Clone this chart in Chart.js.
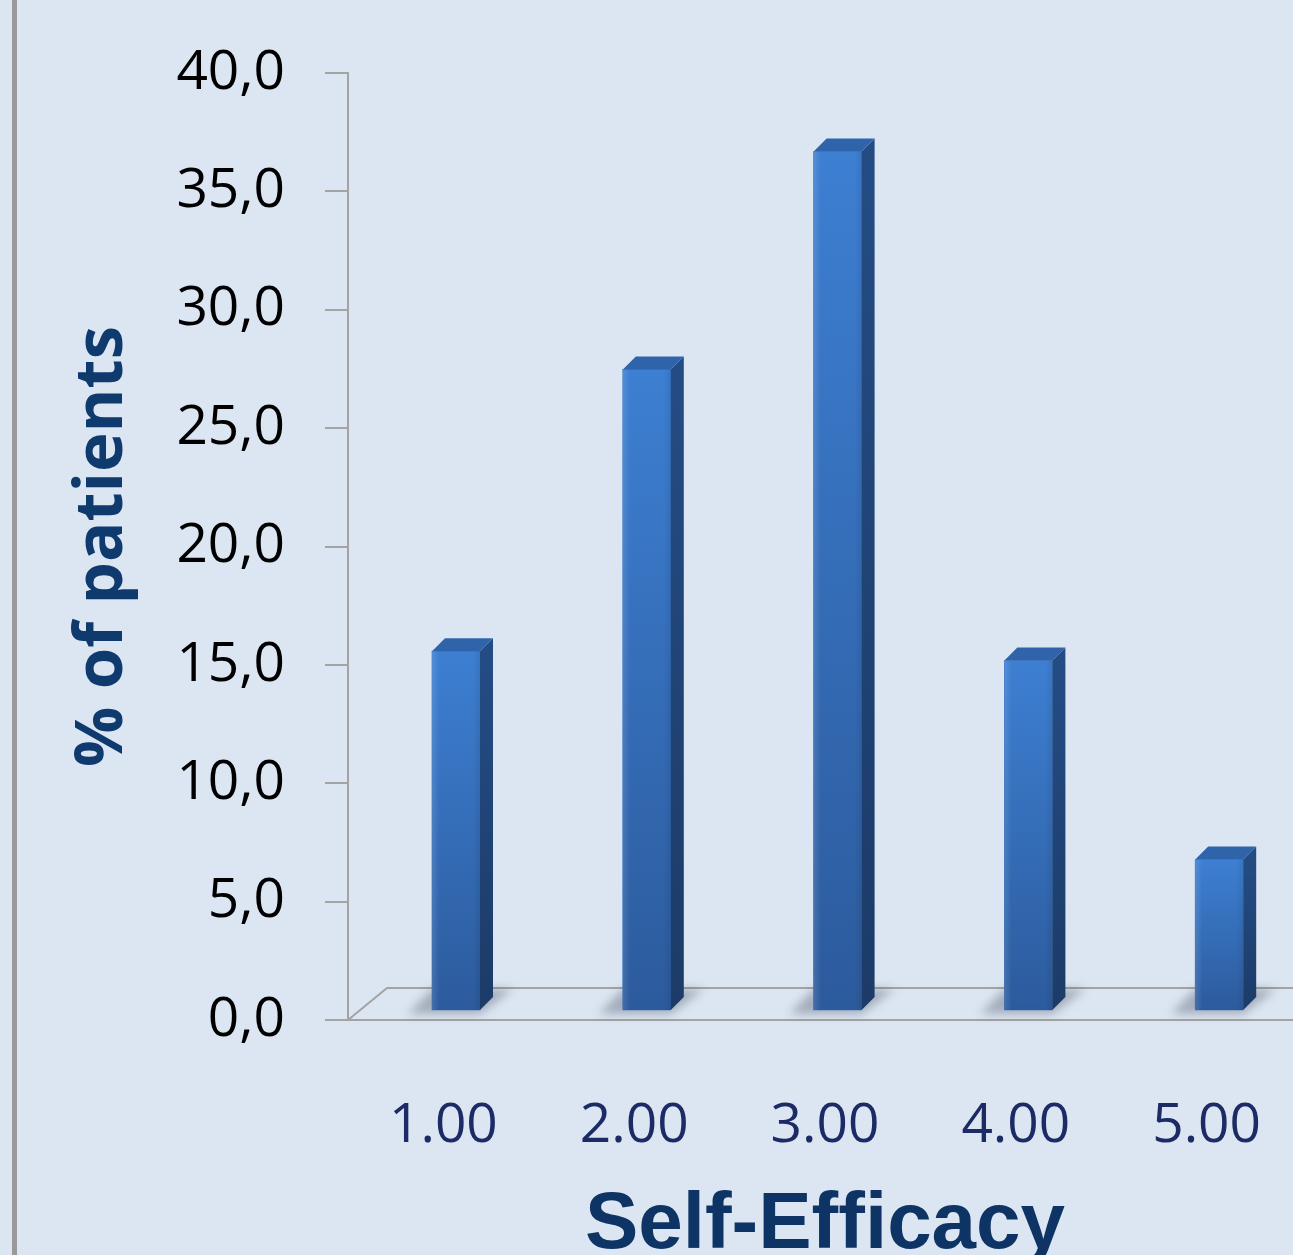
<!DOCTYPE html>
<html>
<head>
<meta charset="utf-8">
<script src="https://cdn.jsdelivr.net/npm/chart.js@4"></script>
<style>
  html, body { margin: 0; padding: 0; overflow: hidden; background: #dce6f2; }
  #wrap { position: relative; width: 1293px; height: 1255px; overflow: hidden; }
  #edge { position: absolute; left: 12px; top: 0; width: 5px; height: 1255px; background: #999; }
  canvas { position: absolute; left: 0; top: 0; }
</style>
</head>
<body>
<div id="wrap">
  <canvas id="chart" width="1310" height="1255"></canvas>
  <div id="edge"></div>
</div>
<script>
const categories = ['1.00', '2.00', '3.00', '4.00', '5.00'];
const percentPatients = [15.2, 27.1, 36.3, 14.8, 6.4];
const yTicks = { min: 0, max: 40, step: 5 };

// 3D look: bar front face is pushed back a bit into the floor
const DX = 12.6;
const DY = -9;
const DEPTH = 13;
const FLOOR_DX = 39;
const FLOOR_DY = -32;

const bars3d = {
  id: 'bars3d',
  beforeDatasetsDraw(chart) {
    const { ctx, chartArea } = chart;
    ctx.save();

    // floor back edge + left diagonal
    ctx.strokeStyle = '#a3a3a3';
    ctx.lineWidth = 2;
    ctx.beginPath();
    ctx.moveTo(chartArea.left, chartArea.bottom);
    ctx.lineTo(chartArea.left + FLOOR_DX, chartArea.bottom + FLOOR_DY);
    ctx.lineTo(chart.width, chartArea.bottom + FLOOR_DY);
    ctx.stroke();

    // soft shadows on the floor
    const meta = chart.getDatasetMeta(0);
    ctx.fillStyle = 'rgba(60, 65, 85, 0.35)';
    ctx.filter = 'blur(5px)';
    meta.data.forEach(bar => {
      const l = bar.x - bar.width / 2 + DX;
      const r = bar.x + bar.width / 2 + DX;
      const b = bar.base + DY;
      ctx.beginPath();
      ctx.moveTo(l - 24, b + 4);
      ctx.lineTo(r, b + 4);
      ctx.lineTo(r + DEPTH + 20, b - DEPTH - 8);
      ctx.lineTo(l, b - DEPTH - 8);
      ctx.closePath();
      ctx.fill();
    });
    ctx.filter = 'none';

    ctx.translate(DX, DY);
  },
  afterDatasetsDraw(chart) {
    const { ctx } = chart;
    const meta = chart.getDatasetMeta(0);
    meta.data.forEach(bar => {
      const l = bar.x - bar.width / 2;
      const r = bar.x + bar.width / 2;
      const t = bar.y;
      const b = bar.base;

      // front face shading
      const front = ctx.createLinearGradient(0, t, 0, b);
      front.addColorStop(0, '#3d7fd2');
      front.addColorStop(1, '#2c5b9d');
      ctx.fillStyle = front;
      ctx.fillRect(l, t, r - l, b - t);
      const edge = ctx.createLinearGradient(l, 0, r, 0);
      edge.addColorStop(0, 'rgba(255,255,255,0.12)');
      edge.addColorStop(0.15, 'rgba(255,255,255,0)');
      edge.addColorStop(0.85, 'rgba(0,0,0,0)');
      edge.addColorStop(1, 'rgba(0,0,0,0.08)');
      ctx.fillStyle = edge;
      ctx.fillRect(l, t, r - l, b - t);

      // side face
      const side = ctx.createLinearGradient(0, t, 0, b);
      side.addColorStop(0, '#244c84');
      side.addColorStop(1, '#1c3b68');
      ctx.fillStyle = side;
      ctx.beginPath();
      ctx.moveTo(r, t);
      ctx.lineTo(r + DEPTH, t - DEPTH);
      ctx.lineTo(r + DEPTH, b - DEPTH);
      ctx.lineTo(r, b);
      ctx.closePath();
      ctx.fill();

      // top face
      ctx.fillStyle = '#2f64ab';
      ctx.beginPath();
      ctx.moveTo(l, t);
      ctx.lineTo(l + DEPTH, t - DEPTH);
      ctx.lineTo(r + DEPTH, t - DEPTH);
      ctx.lineTo(r, t);
      ctx.closePath();
      ctx.fill();
    });
    ctx.restore();
  }
};

new Chart(document.getElementById('chart'), {
  type: 'bar',
  data: {
    labels: categories,
    datasets: [{
      data: percentPatients,
      backgroundColor: '#3670bd',
      borderWidth: 0,
      barThickness: 48
    }]
  },
  options: {
    responsive: false,
    devicePixelRatio: 1,
    animation: false,
    layout: { padding: { left: 0, top: 71, right: 8, bottom: 0 } },
    plugins: {
      legend: { display: false },
      tooltip: { enabled: false }
    },
    scales: {
      x: {
        grid: { display: false, drawTicks: false },
        border: { display: true, color: '#a3a3a3', width: 2 },
        ticks: {
          color: '#1c2b66',
          padding: 73,
          maxRotation: 0,
          font: { family: 'Open Sans', size: 55 }
        },
        title: {
          display: true,
          text: 'Self-Efficacy',
          color: '#0e3466',
          padding: 0,
          font: { family: 'Liberation Sans', size: 80, weight: 'bold', lineHeight: 0.72 }
        },
        afterFit(scale) {
          scale.height = 235;
          scale.paddingLeft = 0;
          scale.paddingRight = 0;
        }
      },
      y: {
        min: yTicks.min,
        max: yTicks.max,
        grid: { drawOnChartArea: false, drawTicks: true, tickLength: 23, color: '#a3a3a3', lineWidth: 2 },
        border: { display: true, color: '#a3a3a3', width: 2 },
        ticks: {
          stepSize: yTicks.step,
          color: '#000',
          padding: 40,
          font: { family: 'Open Sans', size: 55 },
          callback: v => v.toFixed(1).replace('.', ',')
        },
        title: {
          display: true,
          text: '% of patients',
          color: '#0e3a6e',
          padding: { top: 63, bottom: 0 },
          font: { family: 'Open Sans', size: 67, weight: 'bold' }
        },
        afterFit(scale) { scale.width = 348; }
      }
    }
  },
  plugins: [bars3d]
});
</script>
</body>
</html>
